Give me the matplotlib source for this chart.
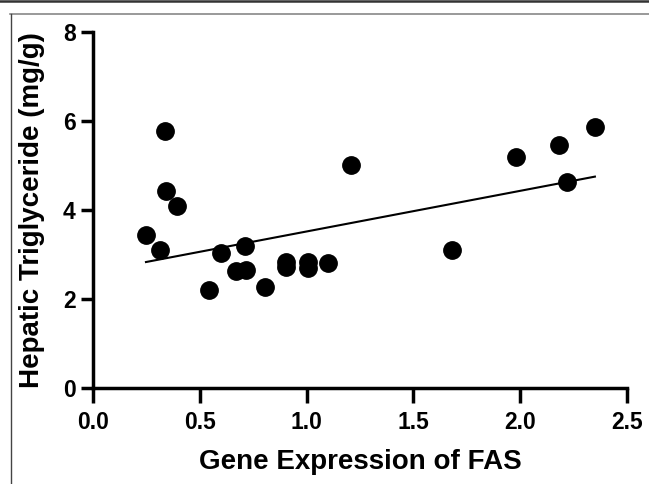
import matplotlib.pyplot as plt
import numpy as np
from matplotlib.lines import Line2D

# Gene expression of FAS vs hepatic triglyceride (mg/g)
fas = [0.248, 0.313, 0.336, 0.341, 0.394, 0.542, 0.600, 0.671, 0.718, 0.713,
       0.804, 0.902, 0.905, 1.005, 1.005, 1.100, 1.210, 1.680, 1.980, 2.180,
       2.220, 2.350]
tg = [3.43, 3.09, 5.77, 4.42, 4.10, 2.21, 3.03, 2.62, 2.66, 3.20,
      2.27, 2.73, 2.84, 2.84, 2.70, 2.81, 5.02, 3.11, 5.18, 5.45,
      4.62, 5.86]

# regression line as drawn in the figure
fit_slope = 0.913
fit_intercept = 2.604

x_ticks = [0.0, 0.5, 1.0, 1.5, 2.0, 2.5]
y_ticks = [0, 2, 4, 6, 8]

plt.rcParams['font.family'] = ['Liberation Sans', 'DejaVu Sans']
plt.rcParams['font.weight'] = 'bold'

fig = plt.figure(figsize=(6.49, 4.84), dpi=100)
ax = fig.add_axes([0.1433, 0.1983, 0.8227, 0.7357])

ax.plot(fas, tg, 'o', color='black', markersize=12.5, zorder=3, clip_on=False)

xs = np.array([min(fas), max(fas)])
ax.plot(xs, fit_slope * xs + fit_intercept, color='black', linewidth=1.5, zorder=2)

ax.set_xlim(0, 2.5)
ax.set_ylim(0, 8)
ax.set_xticks(x_ticks)
ax.set_yticks(y_ticks)
ax.set_xticklabels([f'{t:.1f}' for t in x_ticks])
for s in ['top', 'right']:
    ax.spines[s].set_visible(False)
for s in ['left', 'bottom']:
    ax.spines[s].set_linewidth(2.5)
ax.tick_params(width=2.5, labelsize=16.5)
ax.tick_params(axis='x', length=10.5, pad=6)
ax.tick_params(axis='y', length=8.5, pad=4)
ax.set_xlabel('Gene Expression of FAS', fontsize=20, fontweight='bold', labelpad=11)
ax.set_ylabel('Hepatic Triglyceride (mg/g)', fontsize=20, fontweight='bold', labelpad=13)

# border of the original panel
fig.add_artist(Line2D([0, 1], [0.998, 0.998], color='#333333', linewidth=1.8))
fig.add_artist(Line2D([0.016, 1], [0.972, 0.972], color='#888888', linewidth=1.2))
fig.add_artist(Line2D([0.017, 0.017], [0, 0.972], color='#444444', linewidth=1))

fig.savefig('out.png', dpi=100)
